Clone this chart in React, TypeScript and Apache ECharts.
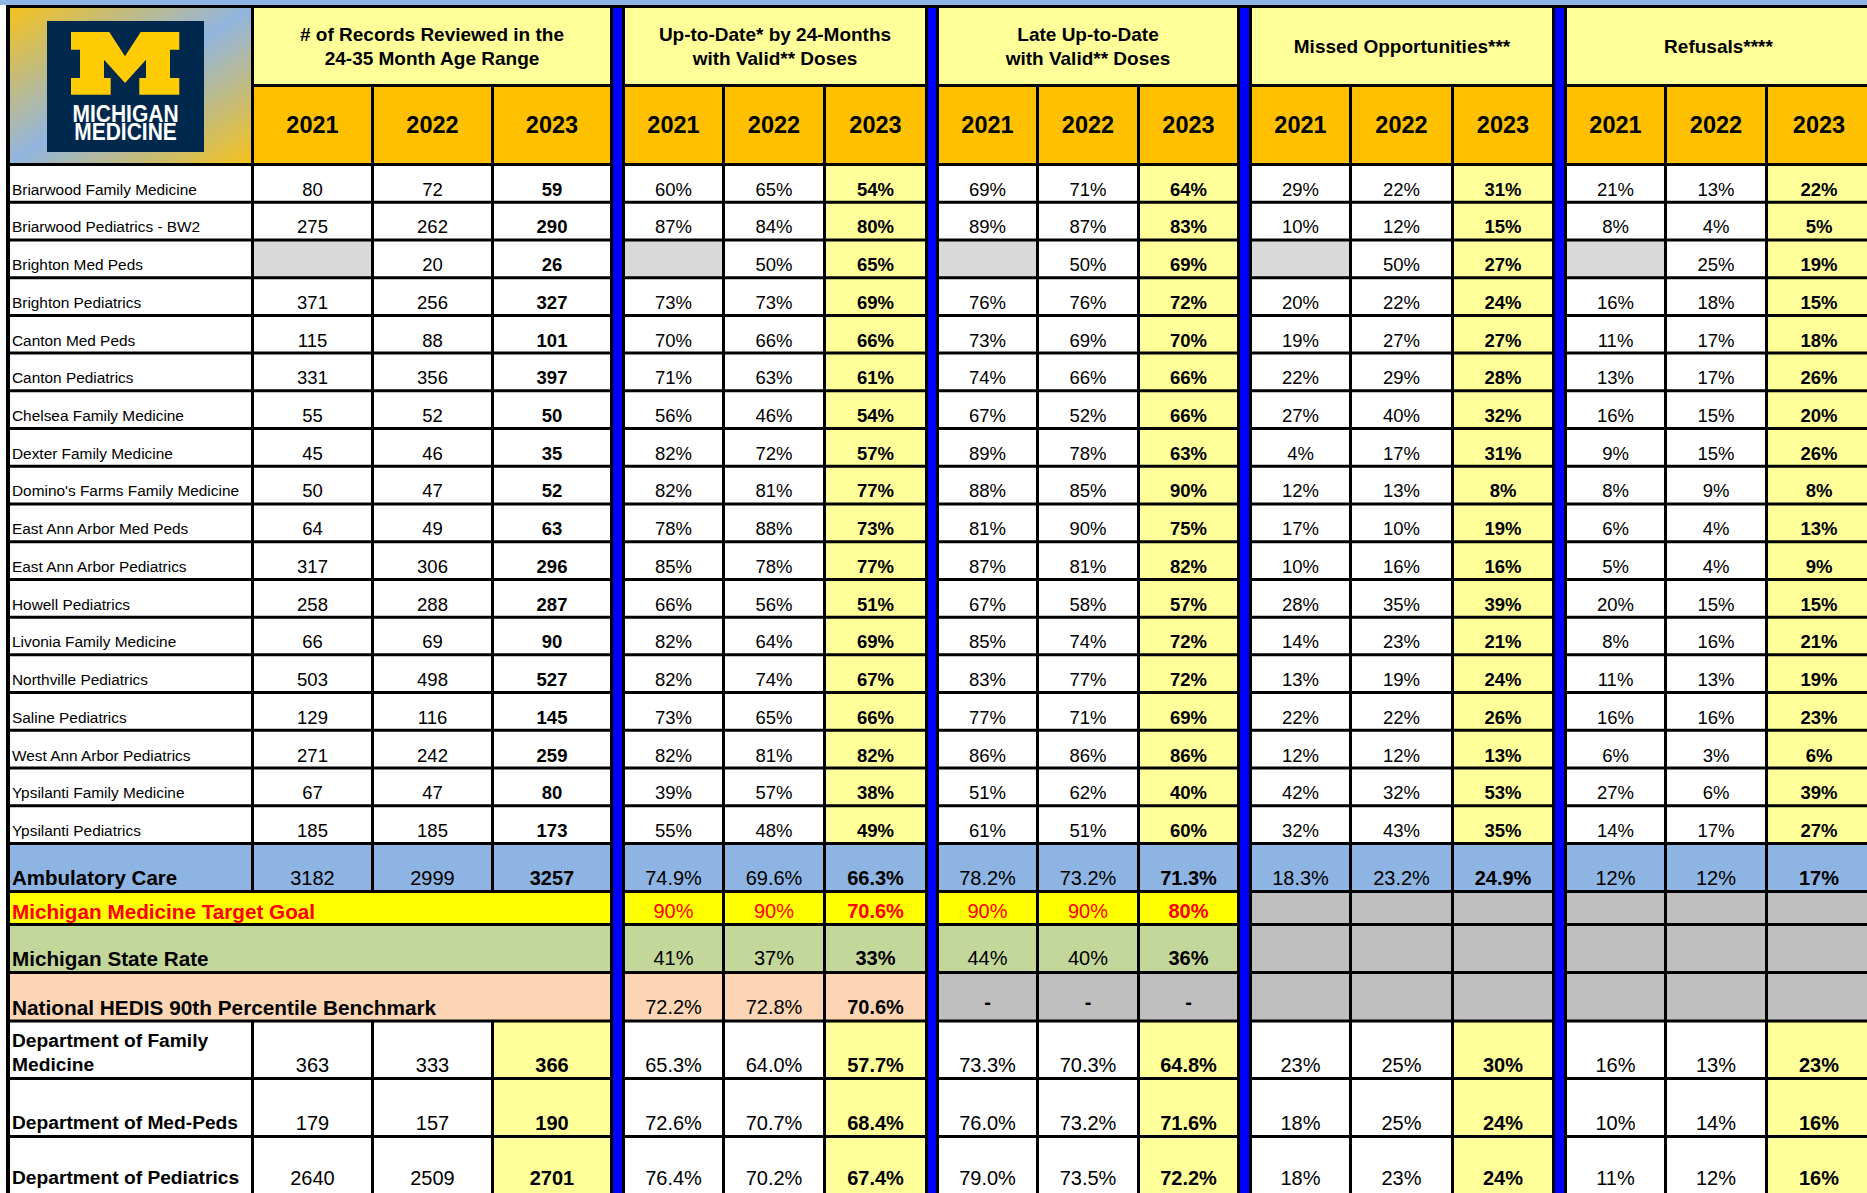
import React, { useEffect, useRef } from "react";
import * as echarts from "echarts";

// ---------------- DATA ----------------
const sites = [
  "Briarwood Family Medicine",
  "Briarwood Pediatrics - BW2",
  "Brighton Med Peds",
  "Brighton Pediatrics",
  "Canton Med Peds",
  "Canton Pediatrics",
  "Chelsea Family Medicine",
  "Dexter Family Medicine",
  "Domino's Farms Family Medicine",
  "East Ann Arbor Med Peds",
  "East Ann Arbor Pediatrics",
  "Howell Pediatrics",
  "Livonia Family Medicine",
  "Northville Pediatrics",
  "Saline Pediatrics",
  "West Ann Arbor Pediatrics",
  "Ypsilanti Family Medicine",
  "Ypsilanti Pediatrics",
];
const years = ["2021", "2022", "2023"];
const groupTitles = [
  "# of Records Reviewed in the\n24-35 Month Age Range",
  "Up-to-Date* by 24-Months\nwith Valid** Doses",
  "Late Up-to-Date\nwith Valid** Doses",
  "Missed Opportunities***",
  "Refusals****",
];

const records2021 = [80, 275, null, 371, 115, 331, 55, 45, 50, 64, 317, 258, 66, 503, 129, 271, 67, 185];
const records2022 = [72, 262, 20, 256, 88, 356, 52, 46, 47, 49, 306, 288, 69, 498, 116, 242, 47, 185];
const records2023 = [59, 290, 26, 327, 101, 397, 50, 35, 52, 63, 296, 287, 90, 527, 145, 259, 80, 173];

const upToDate2021 = [60, 87, null, 73, 70, 71, 56, 82, 82, 78, 85, 66, 82, 82, 73, 82, 39, 55];
const upToDate2022 = [65, 84, 50, 73, 66, 63, 46, 72, 81, 88, 78, 56, 64, 74, 65, 81, 57, 48];
const upToDate2023 = [54, 80, 65, 69, 66, 61, 54, 57, 77, 73, 77, 51, 69, 67, 66, 82, 38, 49];

const late2021 = [69, 89, null, 76, 73, 74, 67, 89, 88, 81, 87, 67, 85, 83, 77, 86, 51, 61];
const late2022 = [71, 87, 50, 76, 69, 66, 52, 78, 85, 90, 81, 58, 74, 77, 71, 86, 62, 51];
const late2023 = [64, 83, 69, 72, 70, 66, 66, 63, 90, 75, 82, 57, 72, 72, 69, 86, 40, 60];

const missed2021 = [29, 10, null, 20, 19, 22, 27, 4, 12, 17, 10, 28, 14, 13, 22, 12, 42, 32];
const missed2022 = [22, 12, 50, 22, 27, 29, 40, 17, 13, 10, 16, 35, 23, 19, 22, 12, 32, 43];
const missed2023 = [31, 15, 27, 24, 27, 28, 32, 31, 8, 19, 16, 39, 21, 24, 26, 13, 53, 35];

const refusals2021 = [21, 8, null, 16, 11, 13, 16, 9, 8, 6, 5, 20, 8, 11, 16, 6, 27, 14];
const refusals2022 = [13, 4, 25, 18, 17, 17, 15, 15, 9, 4, 4, 15, 16, 13, 16, 3, 6, 17];
const refusals2023 = [22, 5, 19, 15, 18, 26, 20, 26, 8, 13, 9, 15, 21, 19, 23, 6, 39, 27];

const ambulatoryRecords = [3182, 2999, 3257];
const ambulatoryUpToDate = [74.9, 69.6, 66.3];
const ambulatoryLate = [78.2, 73.2, 71.3];
const ambulatoryMissed = [18.3, 23.2, 24.9];
const ambulatoryRefusals = [12, 12, 17];

const targetUpToDate = [90, 90, 70.6];
const targetLate = [90, 90, 80];

const stateUpToDate = [41, 37, 33];
const stateLate = [44, 40, 36];

const hedisUpToDate = [72.2, 72.8, 70.6];

const familyRecords = [363, 333, 366];
const familyUpToDate = [65.3, 64.0, 57.7];
const familyLate = [73.3, 70.3, 64.8];
const familyMissed = [23, 25, 30];
const familyRefusals = [16, 13, 23];

const medPedsRecords = [179, 157, 190];
const medPedsUpToDate = [72.6, 70.7, 68.4];
const medPedsLate = [76.0, 73.2, 71.6];
const medPedsMissed = [18, 25, 24];
const medPedsRefusals = [10, 14, 16];

const pedsRecords = [2640, 2509, 2701];
const pedsUpToDate = [76.4, 70.2, 67.4];
const pedsLate = [79.0, 73.5, 72.2];
const pedsMissed = [18, 23, 24];
const pedsRefusals = [11, 12, 16];

// ---------------- LAYOUT ----------------
const W = 1867;
const H = 1193;
const FONT = '"Liberation Sans", Arial, Helvetica, sans-serif';

// cell column extents (label + 5 groups x 3 years)
const COL_X: [number, number][] = [
  [10, 251],
  [254, 371], [374, 491], [494, 610],
  [625, 722], [725, 823], [826, 925],
  [939, 1036], [1039, 1137], [1140, 1237],
  [1252, 1349], [1352, 1451], [1454, 1552],
  [1567, 1664], [1667, 1765], [1768, 1870],
];
const SEP_X: [number, number][] = [[610, 625], [925, 939], [1237, 1252], [1552, 1567]];
const DATA_ROW_H = 37.72;
const ROW_LINES = [
  5, 84,
  ...Array.from({ length: 19 }, (_, k) => 163 + DATA_ROW_H * k),
  890, 923, 971, 1019.5, 1077, 1135, 1190,
];
const LAST_ROW = ROW_LINES.length - 2;

const C_WHITE = "#FFFFFF";
const C_LIGHTYEL = "#FFFF99";
const C_GOLD = "#FFC000";
const C_BLUE = "#8DB4E2";
const C_YEL = "#FFFF00";
const C_GREEN = "#C4D79B";
const C_PEACH = "#FCD5B4";
const C_GREY = "#BFBFBF";
const C_LGREY = "#D9D9D9";
const C_SEP = "#0000FF";

type Cell = {
  c0: number; c1: number; r: number; r1?: number;
  text?: string; bg: any; color?: string; bold?: boolean; size?: number;
  align?: "left" | "center"; vpos?: "middle" | "bottom"; off?: number; lh?: number;
};

function fmtPct(v: number | null, d: number) {
  return v == null ? "" : v.toFixed(d) + "%";
}
function fmtAuto(v: number) {
  return (Number.isInteger(v) ? String(v) : v.toFixed(1)) + "%";
}
const colOf = (g: number, y: number) => 1 + g * 3 + y;

function buildCells(): Cell[] {
  const cells: Cell[] = [];
  // header: logo cell
  cells.push({
    c0: 0, c1: 0, r: 0, r1: 1,
    bg: {
      type: "linear", x: 0, y: 0, x2: 1, y2: 1,
      colorStops: [
        { offset: 0, color: "#F4C21C" },
        { offset: 0.5, color: "#92B5E0" },
        { offset: 1, color: "#F4C21C" },
      ],
    },
  });
  groupTitles.forEach((t, g) => {
    cells.push({ c0: colOf(g, 0), c1: colOf(g, 2), r: 0, text: t, bg: C_LIGHTYEL, bold: true, size: 19, align: "center", vpos: "middle", lh: 24, color: "#000" });
    years.forEach((yr, y) => {
      cells.push({ c0: colOf(g, y), c1: colOf(g, y), r: 1, text: yr, bg: C_GOLD, bold: true, size: 23.5, align: "center", vpos: "middle", color: "#000" });
    });
  });
  // site rows
  const groups = [
    [records2021, records2022, records2023],
    [upToDate2021, upToDate2022, upToDate2023],
    [late2021, late2022, late2023],
    [missed2021, missed2022, missed2023],
    [refusals2021, refusals2022, refusals2023],
  ];
  sites.forEach((s, i) => {
    const r = 2 + i;
    cells.push({ c0: 0, c1: 0, r, text: s, bg: C_WHITE, size: 15.4, align: "left", vpos: "bottom", off: 11.5, color: "#000" });
    groups.forEach((arrs, g) => {
      arrs.forEach((arr, y) => {
        const v = arr[i];
        const bg = v == null ? C_LGREY : y === 2 && g > 0 ? C_LIGHTYEL : C_WHITE;
        const text = v == null ? "" : g === 0 ? String(v) : fmtPct(v, 0);
        cells.push({ c0: colOf(g, y), c1: colOf(g, y), r, text, bg, bold: y === 2, size: 18.5, align: "center", vpos: "bottom", off: 11.5, color: "#000" });
      });
    });
  });
  // Ambulatory Care
  let r = 20;
  const sumRow = (
    r: number, label: string, labelSize: number, labelBg: string, vals: (number[] | null)[], dec: number[], valBg: (g: number, y: number) => string,
  ) => {
    cells.push({ c0: 0, c1: 0, r, text: label, bg: labelBg, bold: true, size: labelSize, align: "left", vpos: "bottom", off: 12.5, lh: 24, color: "#000" });
    vals.forEach((arr, g) => {
      [0, 1, 2].forEach((y) => {
        const v = arr ? arr[y] : null;
        const text = v == null ? "" : g === 0 ? String(v) : fmtPct(v, dec[g]);
        cells.push({ c0: colOf(g, y), c1: colOf(g, y), r, text, bg: valBg(g, y), bold: y === 2, size: 20, align: "center", vpos: "bottom", off: 12.5, color: "#000" });
      });
    });
  };
  sumRow(r, "Ambulatory Care", 20.5, C_BLUE,
    [ambulatoryRecords, ambulatoryUpToDate, ambulatoryLate, ambulatoryMissed, ambulatoryRefusals],
    [0, 1, 1, 1, 0], () => C_BLUE);

  // Target goal
  r = 21;
  cells.push({ c0: 0, c1: 3, r, text: "Michigan Medicine Target Goal", bg: C_YEL, bold: true, size: 20.7, align: "left", vpos: "bottom", off: 12, color: "#FF0000" });
  [targetUpToDate, targetLate].forEach((arr, k) => {
    arr.forEach((v, y) => {
      cells.push({ c0: colOf(k + 1, y), c1: colOf(k + 1, y), r, text: fmtAuto(v), bg: C_YEL, bold: y === 2, size: 20, align: "center", vpos: "bottom", off: 12, color: "#FF0000" });
    });
  });
  for (let g = 3; g < 5; g++) for (let y = 0; y < 3; y++) cells.push({ c0: colOf(g, y), c1: colOf(g, y), r, bg: C_GREY });

  // State rate
  r = 22;
  cells.push({ c0: 0, c1: 3, r, text: "Michigan State Rate", bg: C_GREEN, bold: true, size: 20.7, align: "left", vpos: "bottom", off: 13, color: "#000" });
  [stateUpToDate, stateLate].forEach((arr, k) => {
    arr.forEach((v, y) => {
      cells.push({ c0: colOf(k + 1, y), c1: colOf(k + 1, y), r, text: fmtAuto(v), bg: C_GREEN, bold: y === 2, size: 20, align: "center", vpos: "bottom", off: 13, color: "#000" });
    });
  });
  for (let g = 3; g < 5; g++) for (let y = 0; y < 3; y++) cells.push({ c0: colOf(g, y), c1: colOf(g, y), r, bg: C_GREY });

  // HEDIS
  r = 23;
  cells.push({ c0: 0, c1: 3, r, text: "National HEDIS 90th Percentile Benchmark", bg: C_PEACH, bold: true, size: 20.8, align: "left", vpos: "bottom", off: 12.5, color: "#000" });
  hedisUpToDate.forEach((v, y) => {
    cells.push({ c0: colOf(1, y), c1: colOf(1, y), r, text: fmtPct(v, 1), bg: C_PEACH, bold: y === 2, size: 20, align: "center", vpos: "bottom", off: 12.5, color: "#000" });
  });
  for (let y = 0; y < 3; y++) cells.push({ c0: colOf(2, y), c1: colOf(2, y), r, text: "-", bg: C_GREY, bold: true, size: 20, align: "center", vpos: "bottom", off: 18, color: "#000" });
  for (let g = 3; g < 5; g++) for (let y = 0; y < 3; y++) cells.push({ c0: colOf(g, y), c1: colOf(g, y), r, bg: C_GREY });

  // Departments
  const deptBg = (g: number, y: number) => (y === 2 ? C_LIGHTYEL : C_WHITE);
  const deptLabel = (r: number, label: string, vals: number[][]) => {
    cells.push({ c0: 0, c1: 0, r, text: label, bg: C_WHITE, bold: true, size: 19.2, align: "left", vpos: "bottom", off: 12.5, lh: 24, color: "#000" });
    vals.forEach((arr, g) => {
      arr.forEach((v, y) => {
        const text = g === 0 ? String(v) : fmtPct(v, g <= 2 ? 1 : 0);
        cells.push({ c0: colOf(g, y), c1: colOf(g, y), r, text, bg: deptBg(g, y), bold: y === 2, size: 20, align: "center", vpos: "bottom", off: 12.5, color: "#000" });
      });
    });
  };
  deptLabel(24, "Department of Family\nMedicine", [familyRecords, familyUpToDate, familyLate, familyMissed, familyRefusals]);
  deptLabel(25, "Department of Med-Peds", [medPedsRecords, medPedsUpToDate, medPedsLate, medPedsMissed, medPedsRefusals]);
  deptLabel(26, "Department of Pediatrics", [pedsRecords, pedsUpToDate, pedsLate, pedsMissed, pedsRefusals]);
  return cells;
}

const CELLS = buildCells();

function cellBox(c: Cell) {
  const r1 = c.r1 ?? c.r;
  const y0 = ROW_LINES[c.r] + 3;
  const y1 = ROW_LINES[r1 + 1];
  return [COL_X[c.c0][0], y0, COL_X[c.c1][1], y1];
}

// decorative frame items: black frame, top band, separators
type Frame = { box: number[]; fill: string };
const FRAMES: Frame[] = [
  { box: [6, 5, W, H], fill: "#000000" },
  { box: [0, 0, W, 5], fill: C_BLUE },
  ...SEP_X.map((s) => ({ box: [s[0] + 3, 8, s[1] - 3, H], fill: C_SEP })),
];

function M_POINTS(): number[][] {
  return [
    [71, 32], [109.3, 32], [125, 56.3], [140.7, 32], [179.3, 32], [179.3, 49.7], [170, 49.7], [170, 78],
    [179.3, 78], [179.3, 94.7], [139.3, 94.7], [139.3, 78], [146, 78], [146, 59.7], [125, 83], [104, 59.7],
    [104, 78], [110.7, 78], [110.7, 94.7], [71, 94.7], [71, 78], [80, 78], [80, 49.7], [71, 49.7],
  ];
}

export default function App() {
  const ref = useRef<HTMLDivElement>(null);
  useEffect(() => {
    if (!ref.current) return;
    const chart = echarts.init(ref.current, undefined, { renderer: "svg" });
    const option: any = {
      animation: false,
      backgroundColor: "#FFFFFF",
      grid: { left: 0, right: 0, top: 0, bottom: 0 },
      xAxis: { type: "value", min: 0, max: W, show: false },
      yAxis: { type: "value", min: 0, max: H, inverse: true, show: false },
      series: [
        {
          type: "custom",
          name: "frame",
          z: 1,
          data: FRAMES.map((f) => f.box),
          renderItem: (params: any, api: any) => {
            const f = FRAMES[params.dataIndex];
            const p0 = api.coord([api.value(0), api.value(1)]);
            const p1 = api.coord([api.value(2), api.value(3)]);
            return { type: "rect", shape: { x: p0[0], y: p0[1], width: p1[0] - p0[0], height: p1[1] - p0[1] }, style: { fill: f.fill } };
          },
        },
        {
          type: "custom",
          name: "cells",
          z: 2,
          data: CELLS.map((c) => cellBox(c)),
          renderItem: (params: any, api: any) => {
            const c = CELLS[params.dataIndex];
            const p0 = api.coord([api.value(0), api.value(1)]);
            const p1 = api.coord([api.value(2), api.value(3)]);
            const extra = (c.r1 ?? c.r) === LAST_ROW ? 6 : 0;
            const children: any[] = [
              { type: "rect", shape: { x: p0[0], y: p0[1], width: p1[0] - p0[0], height: p1[1] - p0[1] + extra }, style: { fill: c.bg } },
            ];
            if (c.text) {
              const size = c.size ?? 18;
              const lh = c.lh ?? size + 4;
              const x = c.align === "left" ? p0[0] + 2 : (p0[0] + p1[0]) / 2;
              let y: number;
              let va: string;
              if (c.vpos === "middle") {
                y = (p0[1] + p1[1]) / 2;
                va = "middle";
              } else {
                y = p1[1] - (c.off ?? 12) + lh / 2;
                va = "bottom";
              }
              children.push({
                type: "text",
                x,
                y,
                style: {
                  text: c.text,
                  fill: c.color ?? "#000",
                  fontSize: size,
                  fontWeight: c.bold ? "bold" : "normal",
                  fontFamily: FONT,
                  align: c.align ?? "center",
                  verticalAlign: va,
                  textAlign: c.align ?? "center",
                  textVerticalAlign: va,
                  lineHeight: lh,
                },
              });
            }
            return { type: "group", children };
          },
        },
      ],
      graphic: [
        { type: "rect", z: 100, shape: { x: 47, y: 21, width: 157, height: 131 }, style: { fill: "#00274C" } },
        { type: "polygon", z: 101, shape: { points: M_POINTS() }, style: { fill: "#FFCB05" } },
        {
          type: "text", z: 101, x: 125.5, y: 123, scaleY: 1.1, originX: 0, originY: 0,
          style: {
            text: "MICHIGAN\nMEDICINE", fill: "#FFFFFF", fontSize: 21, fontWeight: "bold", fontFamily: FONT,
            lineHeight: 17, align: "center", verticalAlign: "middle", textAlign: "center", textVerticalAlign: "middle",
          },
        },
      ],
    };
    chart.setOption(option);
    return () => chart.dispose();
  }, []);
  return (
    <div
      ref={ref}
      style={{ position: "fixed", left: 0, top: 0, width: W, height: H }}
    />
  );
}
